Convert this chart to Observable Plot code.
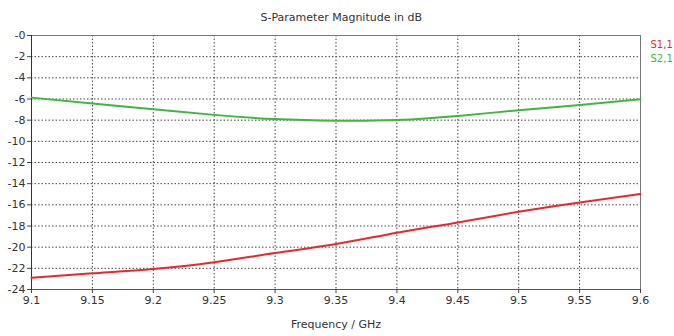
<!DOCTYPE html>
<html><head><meta charset="utf-8">
<script src="https://cdn.jsdelivr.net/npm/d3@7"></script>
<script src="https://cdn.jsdelivr.net/npm/@observablehq/plot@0.6"></script>
<style>body{margin:0;background:#fff}</style>
</head><body><div id="chart"></div>
<script>
const freq = [9.1, 9.15, 9.2, 9.25, 9.3, 9.35, 9.4, 9.45, 9.5, 9.55, 9.6];
const s11 = [-22.9, -22.47, -22.06, -21.43, -20.55, -19.7, -18.63, -17.66, -16.65, -15.77, -14.98];
const s21 = [-5.87, -6.43, -6.96, -7.5, -7.9, -8.05, -7.98, -7.6, -7.06, -6.56, -6.02];
const seriesNames = ["S1,1", "S2,1"];
const seriesColors = ["#e8282c", "#3db83d"];
const xTicks = [9.1, 9.15, 9.2, 9.25, 9.3, 9.35, 9.4, 9.45, 9.5, 9.55, 9.6];
const yTicks = [0, -2, -4, -6, -8, -10, -12, -14, -16, -18, -20, -22, -24];
const titleText = "S-Parameter Magnitude in dB";
const xLabel = "Frequency / GHz";

const rows = [];
freq.forEach((f, i) => {
  rows.push({f, v: s11[i], s: seriesNames[0]});
  rows.push({f, v: s21[i], s: seriesNames[1]});
});
const font = "DejaVu Sans, Verdana, sans-serif";
const xfmt = d => String(+d.toFixed(2));
const yfmt = d => d === 0 ? "-0" : String(d);

const chart = Plot.plot({
  width: 674, height: 336,
  marginLeft: 31, marginRight: 34, marginTop: 35, marginBottom: 47,
  style: {fontFamily: font, fontSize: "10.5px", color: "#333", background: "#fff"},
  x: {domain: [9.1, 9.6], label: null},
  y: {domain: [-24, 0], label: null},
  color: {domain: seriesNames, range: seriesColors},
  marks: [
    Plot.gridX(xTicks.slice(1, -1), {stroke: "#444", strokeOpacity: 1, strokeDasharray: "1.5,2"}),
    Plot.gridY(yTicks.slice(1, -1), {stroke: "#444", strokeOpacity: 1, strokeDasharray: "1.5,2"}),
    Plot.frame({stroke: "#777"}),
    Plot.ruleX([9.1], {stroke: "#333"}),
    Plot.ruleY([-24], {stroke: "#555"}),
    Plot.axisX({ticks: xTicks, tickFormat: xfmt, tickSize: 4, tickPadding: 3, fontSize: 11, stroke: "#444"}),
    Plot.axisY({ticks: yTicks, tickFormat: yfmt, tickSize: 4, tickPadding: 2, fontSize: 11, stroke: "#444"}),
    Plot.line(rows, {x: "f", y: "v", stroke: "s", z: "s", strokeWidth: 2, curve: "natural"}),
    Plot.text([titleText], {frameAnchor: "top-left", dx: 229, dy: -22, fontSize: 11, fill: "#333"}),
    Plot.text([xLabel], {frameAnchor: "bottom", dy: 38, fontSize: 11, fill: "#333"}),
    Plot.text([seriesNames[0]], {fill: seriesColors[0], frameAnchor: "top-right", textAnchor: "start", dx: 10, dy: 5, fontSize: 10}),
    Plot.text([seriesNames[1]], {fill: seriesColors[1], frameAnchor: "top-right", textAnchor: "start", dx: 10, dy: 19, fontSize: 10})
  ]
});
document.getElementById("chart").appendChild(chart);
</script>
</body></html>
